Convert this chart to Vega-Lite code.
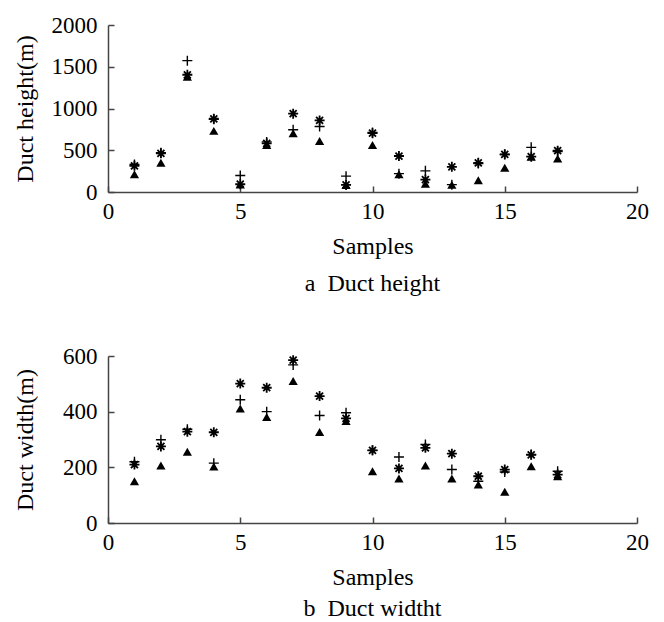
{
  "$schema": "https://vega.github.io/schema/vega-lite/v6.json",
  "padding": {"left": 13, "top": 14, "right": 5, "bottom": 0},
  "spacing": 49,
  "datasets": {
    "height": [
      {"sample": 1, "plus": 330, "star": 314, "tri": 213},
      {"sample": 2, "plus": 470, "star": 463, "tri": 350},
      {"sample": 3, "plus": 1573, "star": 1404, "tri": 1380},
      {"sample": 4, "plus": 870, "star": 877, "tri": 732},
      {"sample": 5, "plus": 197, "star": 93, "tri": 90},
      {"sample": 6, "plus": 600, "star": 583, "tri": 563},
      {"sample": 7, "plus": 745, "star": 938, "tri": 704},
      {"sample": 8, "plus": 785, "star": 857, "tri": 612},
      {"sample": 9, "plus": 190, "star": 85, "tri": 85},
      {"sample": 10, "plus": 712, "star": 704, "tri": 563},
      {"sample": 11, "plus": 220, "star": 431, "tri": 213},
      {"sample": 12, "plus": 253, "star": 149, "tri": 100},
      {"sample": 13, "plus": 88, "star": 302, "tri": 88},
      {"sample": 14, "plus": 342, "star": 350, "tri": 141},
      {"sample": 15, "plus": 450, "star": 451, "tri": 290},
      {"sample": 16, "plus": 535, "star": 423, "tri": 423},
      {"sample": 17, "plus": 483, "star": 495, "tri": 402}
    ],
    "width": [
      {"sample": 1, "plus": 220, "star": 210, "tri": 150},
      {"sample": 2, "plus": 299, "star": 275, "tri": 207},
      {"sample": 3, "plus": 337, "star": 328, "tri": 256},
      {"sample": 4, "plus": 215, "star": 326, "tri": 203},
      {"sample": 5, "plus": 443, "star": 501, "tri": 411},
      {"sample": 6, "plus": 400, "star": 486, "tri": 381},
      {"sample": 7, "plus": 568, "star": 585, "tri": 510},
      {"sample": 8, "plus": 386, "star": 456, "tri": 327},
      {"sample": 9, "plus": 396, "star": 376, "tri": 366},
      {"sample": 10, "plus": 261, "star": 261, "tri": 186},
      {"sample": 11, "plus": 237, "star": 196, "tri": 160},
      {"sample": 12, "plus": 282, "star": 270, "tri": 207},
      {"sample": 13, "plus": 192, "star": 249, "tri": 160},
      {"sample": 14, "plus": 150, "star": 168, "tri": 138},
      {"sample": 15, "plus": 183, "star": 192, "tri": 112},
      {"sample": 16, "plus": 246, "star": 245, "tri": 204},
      {"sample": 17, "plus": 186, "star": 174, "tri": 168}
    ]
  },
  "vconcat": [
    {
      "width": 529,
      "height": 167,
      "data": {"name": "height"},
      "title": {"text": "a\u00a0\u00a0Duct height"},
      "encoding": {
        "x": {"field": "sample", "type": "quantitative", "scale": {"domain": [0, 20]},
              "axis": {"title": "Samples", "values": [0, 5, 10, 15, 20], "format": "d", "labelFont": "Liberation Serif"}}
      },
      "layer": [
        {"mark": {"type": "point", "shape": "M-1,0H1M0,-1V1", "size": 100, "filled": false, "color": "black", "strokeWidth": 1.4, "opacity": 1},
         "encoding": {"y": {"field": "plus", "type": "quantitative", "scale": {"domain": [0, 2000]},
           "axis": {"title": "Duct height(m)", "values": [0, 500, 1000, 1500, 2000], "format": "d", "labelFont": "Liberation Serif", "titleX": -71, "titleY": 83.5}}}},
        {"mark": {"type": "point", "shape": "M-1,0H1M0,-1V1M-0.7,-0.7L0.7,0.7M-0.7,0.7L0.7,-0.7", "size": 100, "filled": false, "color": "black", "strokeWidth": 1.8, "opacity": 1},
         "encoding": {"y": {"field": "star", "type": "quantitative"}}},
        {"mark": {"type": "point", "shape": "triangle-up", "size": 85, "filled": true, "color": "black", "opacity": 1},
         "encoding": {"y": {"field": "tri", "type": "quantitative"}}}
      ]
    },
    {
      "width": 529,
      "height": 167,
      "data": {"name": "width"},
      "title": {"text": "b\u00a0\u00a0Duct widtht", "offset": 8},
      "encoding": {
        "x": {"field": "sample", "type": "quantitative", "scale": {"domain": [0, 20]},
              "axis": {"title": "Samples", "values": [0, 5, 10, 15, 20], "format": "d", "labelFont": "Liberation Serif"}}
      },
      "layer": [
        {"mark": {"type": "point", "shape": "M-1,0H1M0,-1V1", "size": 100, "filled": false, "color": "black", "strokeWidth": 1.4, "opacity": 1},
         "encoding": {"y": {"field": "plus", "type": "quantitative", "scale": {"domain": [0, 600]},
           "axis": {"title": "Duct width(m)", "values": [0, 200, 400, 600], "format": "d", "labelFont": "Liberation Serif", "titleX": -71, "titleY": 83.5}}}},
        {"mark": {"type": "point", "shape": "M-1,0H1M0,-1V1M-0.7,-0.7L0.7,0.7M-0.7,0.7L0.7,-0.7", "size": 100, "filled": false, "color": "black", "strokeWidth": 1.8, "opacity": 1},
         "encoding": {"y": {"field": "star", "type": "quantitative"}}},
        {"mark": {"type": "point", "shape": "triangle-up", "size": 85, "filled": true, "color": "black", "opacity": 1},
         "encoding": {"y": {"field": "tri", "type": "quantitative"}}}
      ]
    }
  ],
  "config": {
    "view": {"stroke": null},
    "font": "Liberation Serif",
    "style": {
      "guide-label": {"font": "Liberation Serif", "fontSize": 23, "fill": "black"},
      "guide-title": {"font": "Liberation Serif", "fontSize": 24, "fill": "black", "fontWeight": "normal"}
    },
    "axis": {
      "grid": false,
      "domainColor": "#444",
      "tickColor": "#444",
      "domainWidth": 1.5,
      "tickWidth": 1.5,
      "tickSize": -6,
      "labelFont": "Liberation Serif",
      "labelFontSize": 23,
      "labelColor": "black",
      "labelFlush": false,
      "titleFont": "Liberation Serif",
      "titleFontSize": 24,
      "titleFontWeight": "normal",
      "titleColor": "black",
      "titlePadding": 11
    },
    "axisX": {"labelPadding": 14},
    "axisY": {"labelPadding": 17},
    "title": {
      "font": "Liberation Serif",
      "fontSize": 24,
      "fontWeight": "normal",
      "orient": "bottom",
      "color": "black",
      "offset": 14
    }
  }
}
